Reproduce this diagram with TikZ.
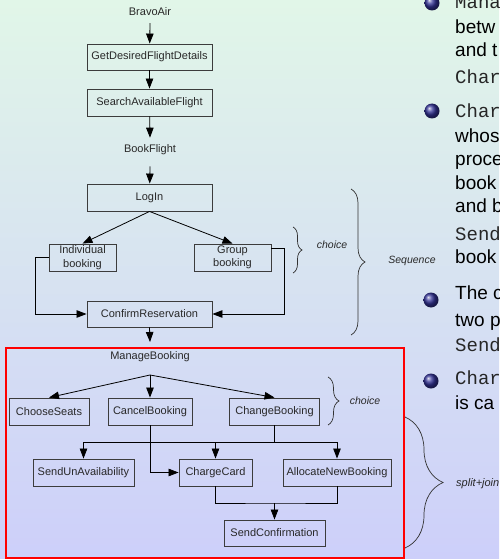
\documentclass[tikz,border=0pt]{standalone}
\usepackage{fontspec}
\setmainfont{Liberation Sans}
\newfontfamily\codefont{Liberation Mono}
\usetikzlibrary{arrows.meta,decorations.pathreplacing,calc}
\definecolor{bgtop}{RGB}{225,246,232}
\definecolor{bgmid}{RGB}{216,228,240}
\definecolor{bgbot}{RGB}{205,207,250}
\definecolor{boxline}{RGB}{60,60,60}
\definecolor{txt}{RGB}{40,40,40}
\definecolor{ballblue}{RGB}{50,50,150}
\begin{document}
\begin{tikzpicture}[x=1pt,y=-1pt,
  task/.style={draw=boxline,line width=0.9pt,minimum height=27pt,inner sep=0pt,
    font=\fontsize{11}{13.5}\selectfont,text=txt,align=center},
  tasktext/.style={inner sep=1pt,font=\fontsize{11}{13.5}\selectfont,text=txt},
  flow/.style={line width=0.8pt,-{Triangle[length=10pt,width=7.5pt]}},
  wire/.style={line width=0.8pt},
  curly/.style={decorate,line width=0.7pt,draw=black!80},
  note/.style={inner sep=0pt,font=\fontsize{10.5}{12}\selectfont\itshape,text=txt},
  body/.style={anchor=mid west,inner sep=0pt,font=\fontsize{19}{22}\selectfont,text=black},
  mono/.style={anchor=mid west,inner sep=0pt,font=\codefont\fontsize{19}{22}\selectfont,text=black!85},
  bulletball/.style={ball color=ballblue}
]
\useasboundingbox (0,0) rectangle (499,559);
% slide background
\shade[top color=bgtop, middle color=bgmid, bottom color=bgbot] (0,0) rectangle (499,559);

% booking process
\node[tasktext] (bravo) at (150,12) {BravoAir};
\node[task,minimum width=125pt,minimum height=26pt] (gdfd) at (149.5,57) {GetDesiredFlightDetails};
\node[task,minimum width=125pt] (saf) at (149.5,102.5) {SearchAvailableFlight};
\node[tasktext] (bookf) at (150,150) {BookFlight};
\node[task,minimum width=125pt] (login) at (149.5,197.5) {LogIn};
\node[task,minimum width=67pt] (indiv) at (82.5,257.5) {Individual\\booking};
\node[task,minimum width=77pt] (group) at (232.5,257.5) {Group\\booking};
\node[task,minimum width=125pt,minimum height=26pt] (confirm) at (149.5,314) {ConfirmReservation};
\coordinate (mbin) at (150,342);

\draw[flow] ([yshift=-6pt]bravo.south) -- (gdfd);
\draw[flow] (gdfd) -- (saf);
\draw[flow] (saf) -- ([yshift=6pt]bookf.north);
\draw[flow] ([yshift=-10pt]bookf.south) -- (login);
\draw[flow] (login.south) -- (indiv.north);
\draw[flow] (login.south) -- (group.north);
\draw[flow] (indiv.west) -- ++(-13,0) |- (confirm.west);
\draw[flow] ([yshift=9.5pt]group.east) -- ++(13,0) |- (confirm.east);
\draw[flow] (confirm.south) -- (mbin);

% managing an existing booking
\draw[red, line width=2pt] (6,348) rectangle (404,558);
\node[tasktext] (manage) at (150,357) {ManageBooking};
\coordinate (fork) at (150,375);
\node[task,minimum width=80pt] (choose) at (49,411.5) {ChooseSeats};
\node[task,minimum width=84pt] (cancel) at (150,411.5) {CancelBooking};
\node[task,minimum width=90pt] (change) at (274.5,411.5) {ChangeBooking};
\node[task,minimum width=101pt] (sendun) at (83.5,472.5) {SendUnAvailability};
\node[task,minimum width=73pt] (charge) at (215.5,472.5) {ChargeCard};
\node[task,minimum width=108pt] (alloc) at (337,472.5) {AllocateNewBooking};
\node[task,minimum width=101pt,minimum height=26pt] (sendconf) at (274.5,533) {SendConfirmation};

\draw[flow] (fork) -- (choose.north);
\draw[flow] (fork) -- (cancel.north);
\draw[flow] (fork) -- (change.north);
\coordinate (bus) at (274.5,442);
\draw[wire] (change.south) -- (bus);
\draw[flow] (bus) -| (sendun.north);
\draw[flow] (bus) -| (charge.north);
\draw[flow] (bus) -| (alloc.north);
\draw[flow] (cancel.south) |- (charge.west);
\coordinate (merge) at (274.5,503);
\draw[wire] (charge.south) |- (merge) -| (alloc.south);
\draw[flow] (merge) -- (sendconf.north);

% braces and their labels
\draw[curly,decoration={brace,amplitude=9pt}] (293,227) -- (293,273);
\node[note] (ch1) at (332,245) {choice};
\draw[curly,decoration={brace,amplitude=14pt}] (351,189) -- (351,335);
\node[note] (seq) at (412,261) {Sequence};
\draw[curly,decoration={brace,amplitude=11pt}] (328,377) -- (328,425);
\node[note] (ch2) at (365,401) {choice};
\draw[curly,decoration={brace,amplitude=38pt}] (405,417) -- (405,548);
\node[note,anchor=west,font=\fontsize{11}{12}\selectfont\itshape] (sj) at (456,484) {split+join};

% bullet text along the right edge
\begin{scope}
\clip (0,0) rectangle (499,559);
\shade[bulletball] (432,3) circle[radius=7.5pt];
\node[mono] (a1) at (455,6) {Mana};
\node[body] (a2) at (455,31) {betw};
\node[body] (a3) at (455,54) {and t};
\node[mono] (a4) at (455,81) {Char};
\shade[bulletball] (432,111) circle[radius=7.5pt];
\node[mono] (b1) at (455,115) {Char};
\node[body] (b2) at (455,140) {whos};
\node[body] (b3) at (455,163) {proce};
\node[body] (b4) at (455,187) {book};
\node[body] (b5) at (455,210) {and b};
\node[mono] (b6) at (455,238) {Send};
\node[body] (b7) at (455,261) {book};
\shade[bulletball] (431,300) circle[radius=7.5pt];
\node[body] (c1) at (455,297) {The c};
\node[body] (c2) at (455,324) {two p};
\node[mono] (c3) at (455,349) {Send};
\shade[bulletball] (431,381) circle[radius=7.5pt];
\node[mono] (d1) at (455,382) {Char};
\node[body] (d2) at (455,407) {is ca};
\end{scope}
\end{tikzpicture}
\end{document}
